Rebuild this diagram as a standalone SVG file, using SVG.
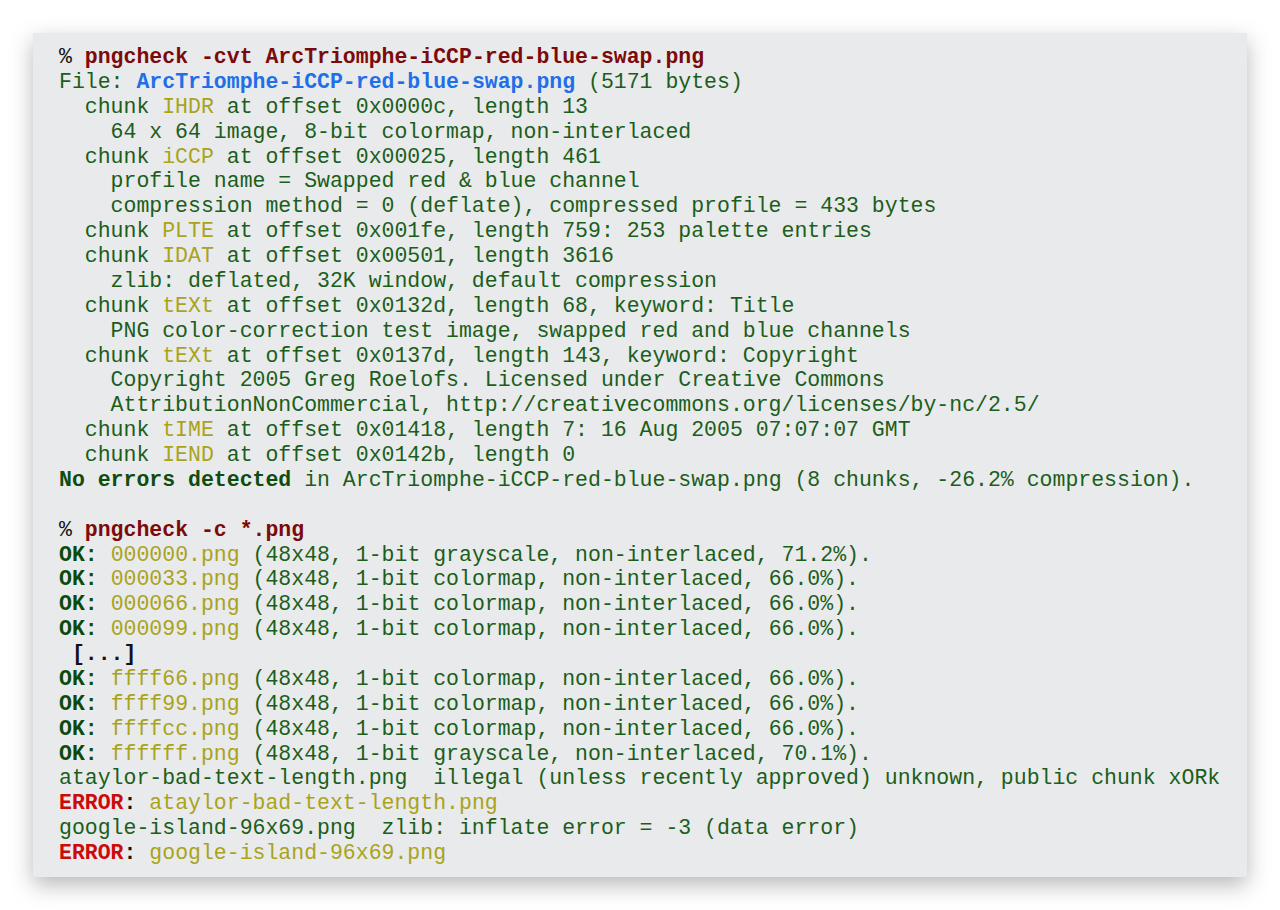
<svg xmlns="http://www.w3.org/2000/svg" width="1280" height="910" viewBox="0 0 1280 910">
<defs>
<filter id="sh" x="-10%" y="-10%" width="120%" height="125%">
<feDropShadow dx="0" dy="8" stdDeviation="11" flood-color="#000" flood-opacity="0.28"/>
</filter>
<style>
text{font-family:"Liberation Mono","Courier New",monospace;font-size:21.5px;fill:#1b5e1b;white-space:pre}
.p{fill:#111}
.cmd{fill:#7d0a0a;font-weight:bold}
.blue{fill:#1f6fe8;font-weight:bold}
.ol{fill:#a9a31c}
.b{font-weight:bold;fill:#0f4d0f}
.ok{font-weight:bold;fill:#0c4a0c}
.err{font-weight:bold;fill:#cc0a0a}
.blk{font-weight:bold;fill:#111}
</style>
</defs>
<rect width="1280" height="910" fill="#ffffff"/>
<rect x="33" y="33" width="1214" height="844" fill="#e9eaeb" filter="url(#sh)"/>
<g id="terminal" xml:space="preserve">
<text x="59" y="63"><tspan class="p">% </tspan><tspan class="cmd">pngcheck -cvt ArcTriomphe-iCCP-red-blue-swap.png</tspan></text>
<text x="59" y="87.9">File: <tspan class="blue">ArcTriomphe-iCCP-red-blue-swap.png</tspan> (5171 bytes)</text>
<text x="59" y="112.8">  chunk <tspan class="ol">IHDR</tspan> at offset 0x0000c, length 13</text>
<text x="59" y="137.6">    64 x 64 image, 8-bit colormap, non-interlaced</text>
<text x="59" y="162.5">  chunk <tspan class="ol">iCCP</tspan> at offset 0x00025, length 461</text>
<text x="59" y="187.4">    profile name = Swapped red &amp; blue channel</text>
<text x="59" y="212.3">    compression method = 0 (deflate), compressed profile = 433 bytes</text>
<text x="59" y="237.1">  chunk <tspan class="ol">PLTE</tspan> at offset 0x001fe, length 759: 253 palette entries</text>
<text x="59" y="262">  chunk <tspan class="ol">IDAT</tspan> at offset 0x00501, length 3616</text>
<text x="59" y="286.9">    zlib: deflated, 32K window, default compression</text>
<text x="59" y="311.8">  chunk <tspan class="ol">tEXt</tspan> at offset 0x0132d, length 68, keyword: Title</text>
<text x="59" y="336.6">    PNG color-correction test image, swapped red and blue channels</text>
<text x="59" y="361.5">  chunk <tspan class="ol">tEXt</tspan> at offset 0x0137d, length 143, keyword: Copyright</text>
<text x="59" y="386.4">    Copyright 2005 Greg Roelofs. Licensed under Creative Commons</text>
<text x="59" y="411.3">    AttributionNonCommercial, http://creativecommons.org/licenses/by-nc/2.5/</text>
<text x="59" y="436.1">  chunk <tspan class="ol">tIME</tspan> at offset 0x01418, length 7: 16 Aug 2005 07:07:07 GMT</text>
<text x="59" y="461">  chunk <tspan class="ol">IEND</tspan> at offset 0x0142b, length 0</text>
<text x="59" y="485.9"><tspan class="b">No errors detected</tspan> in ArcTriomphe-iCCP-red-blue-swap.png (8 chunks, -26.2% compression).</text>
<text x="59" y="535.6"><tspan class="p">% </tspan><tspan class="cmd">pngcheck -c *.png</tspan></text>
<text x="59" y="560.5"><tspan class="ok">OK:</tspan> <tspan class="ol">000000.png</tspan> (48x48, 1-bit grayscale, non-interlaced, 71.2%).</text>
<text x="59" y="585.4"><tspan class="ok">OK:</tspan> <tspan class="ol">000033.png</tspan> (48x48, 1-bit colormap, non-interlaced, 66.0%).</text>
<text x="59" y="610.3"><tspan class="ok">OK:</tspan> <tspan class="ol">000066.png</tspan> (48x48, 1-bit colormap, non-interlaced, 66.0%).</text>
<text x="59" y="635.1"><tspan class="ok">OK:</tspan> <tspan class="ol">000099.png</tspan> (48x48, 1-bit colormap, non-interlaced, 66.0%).</text>
<text x="59" y="660"><tspan class="blk"> [...]</tspan></text>
<text x="59" y="684.9"><tspan class="ok">OK:</tspan> <tspan class="ol">ffff66.png</tspan> (48x48, 1-bit colormap, non-interlaced, 66.0%).</text>
<text x="59" y="709.8"><tspan class="ok">OK:</tspan> <tspan class="ol">ffff99.png</tspan> (48x48, 1-bit colormap, non-interlaced, 66.0%).</text>
<text x="59" y="734.6"><tspan class="ok">OK:</tspan> <tspan class="ol">ffffcc.png</tspan> (48x48, 1-bit colormap, non-interlaced, 66.0%).</text>
<text x="59" y="759.5"><tspan class="ok">OK:</tspan> <tspan class="ol">ffffff.png</tspan> (48x48, 1-bit grayscale, non-interlaced, 70.1%).</text>
<text x="59" y="784.4">ataylor-bad-text-length.png  illegal (unless recently approved) unknown, public chunk xORk</text>
<text x="59" y="809.3"><tspan class="err">ERROR</tspan><tspan class="blk">:</tspan> <tspan class="ol">ataylor-bad-text-length.png</tspan></text>
<text x="59" y="834.1">google-island-96x69.png  zlib: inflate error = -3 (data error)</text>
<text x="59" y="859"><tspan class="err">ERROR</tspan><tspan class="blk">:</tspan> <tspan class="ol">google-island-96x69.png</tspan></text>
</g>
</svg>
